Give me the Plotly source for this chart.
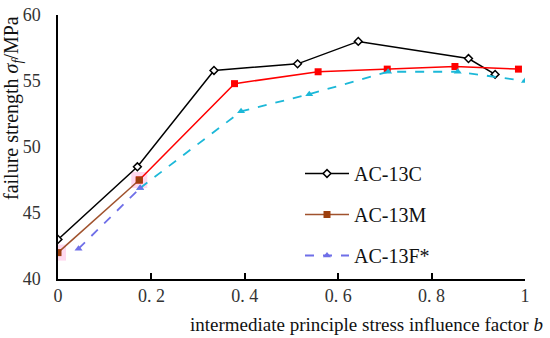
import plotly.graph_objects as go

# Data
b_c = [0.0, 0.17, 0.334, 0.513, 0.643, 0.879, 0.936]
s_c = [43.0, 48.5, 55.8, 56.3, 58.0, 56.7, 55.5]

b_m = [0.0, 0.174, 0.378, 0.557, 0.705, 0.850, 0.986]
s_m = [42.0, 47.5, 54.8, 55.7, 55.9, 56.1, 55.9]

b_f = [0.044, 0.176, 0.392, 0.538, 0.707, 0.856, 1.0]
s_f = [42.3, 46.9, 52.7, 54.0, 55.7, 55.7, 55.0]

x_ticks = [0, 0.2, 0.4, 0.6, 0.8, 1.0]
x_tick_text = ["0", "0. 2", "0. 4", "0. 6", "0. 8", "1"]
y_ticks = [40, 45, 50, 55, 60]

serif = "Liberation Serif"

L, R, T, B = 58, 525, 15, 279
W, H = 550, 338
PW, PH = R - L, B - T

fig = go.Figure()

# soft pink halos behind early AC-13M points
fig.add_trace(go.Scatter(x=b_m[:2], y=s_m[:2], mode="markers",
                         marker=dict(symbol="square", size=16, color="rgba(255,170,220,0.45)"),
                         showlegend=False, hoverinfo="skip"))

# AC-13C
fig.add_trace(go.Scatter(x=b_c, y=s_c, mode="lines+markers", name="AC-13C",
                         line=dict(color="black", width=1.5),
                         marker=dict(symbol="diamond", size=6, color="white",
                                     line=dict(color="black", width=1.5)),
                         legendgroup="c", showlegend=True))

# AC-13M main (red)
fig.add_trace(go.Scatter(x=b_m[1:], y=s_m[1:], mode="lines+markers",
                         line=dict(color="#FF0000", width=1.5),
                         marker=dict(symbol="square", size=7, color="#FF0000"),
                         legendgroup="m", showlegend=False))
# AC-13M first segment (brown)
fig.add_trace(go.Scatter(x=b_m[:2], y=s_m[:2], mode="lines+markers", name="AC-13M",
                         line=dict(color="#A0522D", width=1.5),
                         marker=dict(symbol="square", size=7, color="#9C3F0E"),
                         legendgroup="m", showlegend=True))

# AC-13F* main (cyan dashed)
fig.add_trace(go.Scatter(x=b_f[1:], y=s_f[1:], mode="lines+markers",
                         line=dict(color="#1CB8D8", width=1.8, dash="dash"),
                         marker=dict(symbol="triangle-up", size=7, color="#1CB8D8"),
                         legendgroup="f", showlegend=False))
# AC-13F* first segment (slate blue)
fig.add_trace(go.Scatter(x=b_f[:2], y=s_f[:2], mode="lines+markers", name="AC-13F*",
                         line=dict(color="#6F6FE8", width=1.8, dash="dash"),
                         marker=dict(symbol="triangle-up", size=7, color="#6F6FE8"),
                         legendgroup="f", showlegend=True))

fig.update_layout(
    width=W, height=H,
    margin=dict(l=L, r=W - R, t=T, b=H - B, autoexpand=False),
    paper_bgcolor="white", plot_bgcolor="white",
    font=dict(family=serif, size=18, color="#222"),
    showlegend=True,
    legend=dict(x=(300 - L) / PW, y=(B - 154) / PH, xanchor="left", yanchor="top",
                font=dict(family=serif, size=20, color="#111"),
                bgcolor="rgba(0,0,0,0)", tracegroupgap=12,
                itemwidth=44),
    xaxis=dict(range=[0, 1], tickvals=x_ticks, ticktext=x_tick_text, automargin=False,
               showgrid=False, zeroline=False, showline=True, linecolor="black", linewidth=1.5,
               ticks="inside", ticklen=6, tickcolor="black", tickwidth=1.5,
               tickfont=dict(family=serif, size=18, color="#333")),
    yaxis=dict(range=[40, 60], tickvals=y_ticks, automargin=False,
               showgrid=False, zeroline=False, showline=True, linecolor="black", linewidth=1.5,
               ticks="", ticklabelstandoff=12,
               tickfont=dict(family=serif, size=18, color="#333")),
)

fig.add_annotation(text="failure strength <i>σ</i><sub><i>f</i></sub>/MPa",
                   xref="paper", yref="paper", x=(12 - L) / PW, y=(B - 108) / PH,
                   xanchor="center", yanchor="middle", textangle=-90, showarrow=False,
                   font=dict(family=serif, size=20, color="#111"))
fig.add_annotation(text="intermediate principle stress influence factor <i>b</i>",
                   xref="paper", yref="paper", x=(366 - L) / PW, y=(B - 324) / PH,
                   xanchor="center", yanchor="middle", showarrow=False,
                   font=dict(family=serif, size=19, color="#111"))

fig.write_html("out.html", config={"displayModeBar": False},
               post_script="document.body.style.margin='0';document.body.style.padding='0';")
